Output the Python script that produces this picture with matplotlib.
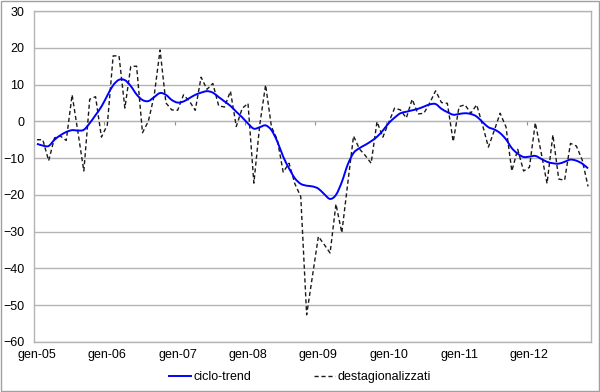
import numpy as np
import matplotlib
matplotlib.use('Agg')
import matplotlib.pyplot as plt
from matplotlib.patches import Rectangle, PathPatch
from matplotlib.path import Path
from matplotlib.lines import Line2D

plt.rcParams['font.family'] = ['Liberation Sans', 'DejaVu Sans']

# monthly data, gen-05 .. nov-12
tick_labels = ['gen-05', 'gen-06', 'gen-07', 'gen-08', 'gen-09', 'gen-10', 'gen-11', 'gen-12']

ciclo_trend = [-6.1, -6.6, -6.7, -5.0, -3.8, -2.9, -2.4, -2.5, -2.3, -0.5,
               1.7, 4.0, 7.0, 9.8, 11.3, 11.2, 9.6, 7.3, 5.8, 5.5,
               6.6, 7.7, 7.2, 5.8, 5.1, 5.4, 6.3, 7.2, 7.8, 8.2,
               7.8, 6.6, 5.4, 4.2, 2.6, 1.1, -0.6, -2.0, -1.6, -1.1,
               -2.4, -5.5, -9.6, -12.8, -15.5, -17.0, -17.5, -17.7, -18.3, -19.8,
               -21.1, -20.0, -16.5, -11.8, -8.6, -7.3, -6.4, -5.4, -4.2, -2.5,
               -0.5, 1.0, 2.2, 2.6, 3.0, 3.4, 4.0, 4.6, 4.7, 3.4,
               2.5, 1.8, 2.0, 2.2, 2.0, 1.3, -0.2, -1.6, -2.2, -3.2,
               -4.9, -7.3, -8.8, -9.7, -9.6, -9.4, -10.2, -11.0, -11.4, -11.5,
               -11.0, -10.4, -10.7, -11.5, -12.8]

destagionalizzati = [-5.0, -5.0, -10.7, -4.5, -4.0, -5.2, 7.2, -3.0, -13.5, 6.0,
                     6.7, -4.3, -1.0, 17.8, 17.8, 3.6, 14.9, 15.0, -3.1, 0.0,
                     7.0, 19.4, 5.0, 3.1, 3.0, 7.2, 5.5, 3.0, 12.0, 8.7,
                     10.3, 4.2, 3.9, 8.2, -1.4, 3.5, 4.9, -16.8, -1.0, 9.9,
                     -1.5, -5.0, -13.8, -11.4, -17.0, -20.5, -52.6, -42.0, -31.3, -33.5,
                     -35.8, -22.5, -30.3, -17.0, -4.0, -7.5, -9.3, -11.4, -0.1, -4.3,
                     -0.3, 3.6, 3.1, 0.9, 6.0, 2.0, 2.2, 5.0, 8.3, 5.1,
                     4.9, -5.5, 4.0, 4.5, 2.2, 4.5, -1.0, -7.0, -2.5, 2.2,
                     -1.5, -13.5, -7.6, -13.5, -12.5, -0.4, -8.5, -16.9, -3.7, -15.7,
                     -16.0, -6.0, -6.7, -10.5, -17.7]

months = np.arange(len(ciclo_trend))
grid_col = '#b4b4b4'
blue = '#0000ff'
dash_col = '#1a1a1a'


def smooth_path(x, y):
    # Excel-style smoothed line: Catmull-Rom segments as cubic Beziers
    x = np.asarray(x, float)
    y = np.asarray(y, float)
    verts = [(x[0], y[0])]
    codes = [Path.MOVETO]
    n = len(x)
    for i in range(n - 1):
        x0, y0 = (x[i - 1], y[i - 1]) if i > 0 else (x[i], y[i])
        x3, y3 = (x[i + 2], y[i + 2]) if i + 2 < n else (x[i + 1], y[i + 1])
        c1 = (x[i] + (x[i + 1] - x0) / 6, y[i] + (y[i + 1] - y0) / 6)
        c2 = (x[i + 1] - (x3 - x[i]) / 6, y[i + 1] - (y3 - y[i]) / 6)
        verts += [c1, c2, (x[i + 1], y[i + 1])]
        codes += [Path.CURVE4] * 3
    return Path(verts, codes)


fig = plt.figure(figsize=(6, 3.92), dpi=100)
ax = fig.add_axes([34 / 600, 1 - 342 / 392, (591 - 34) / 600, (342 - 11) / 392])

ax.add_patch(PathPatch(smooth_path(months, ciclo_trend), fill=False,
                       edgecolor=blue, lw=1.4, zorder=3))
ax.plot(months, destagionalizzati, color=dash_col, lw=1.0, ls=(0, (3, 2)), zorder=2)

ax.set_xlim(-0.5, len(months) - 0.5)
ax.set_ylim(-60, 30)
ax.set_yticks(np.arange(-60, 31, 10))
ax.set_xticks(np.arange(0, len(months), 12))
ax.set_xticklabels(tick_labels)
ax.tick_params(axis='both', length=0, labelsize=9)
ax.tick_params(axis='y', pad=7)
ax.tick_params(axis='x', pad=5)
ax.grid(axis='y', color=grid_col, lw=1)
ax.set_axisbelow(True)
for s in ax.spines.values():
    s.set_color(grid_col)
    s.set_linewidth(1)

# horizontal axis crossing at zero, with tick marks between years
sec = ax.secondary_xaxis(2 / 3)
sec.set_xticks(np.arange(11.5, len(months), 12))
sec.set_xticklabels([])
sec.xaxis.set_ticks_position('bottom')
sec.tick_params(axis='x', length=3, color='#909090', direction='out')
for s in sec.spines.values():
    s.set_color(grid_col)

handles = [Line2D([], [], color=blue, lw=1.4),
           Line2D([], [], color=dash_col, lw=1.0, ls=(0, (3, 2)))]
fig.legend(handles, ['ciclo-trend', 'destagionalizzati'], loc='center',
           bbox_to_anchor=(0.5, 1 - 377 / 392), ncol=2, frameon=False,
           fontsize=9, handlelength=1.7, handletextpad=0.2, columnspacing=5.0)

fig.patches.append(Rectangle((0.001, 0.002), 0.997, 0.995, transform=fig.transFigure,
                             fill=False, edgecolor='#a0a0a0', lw=1))

fig.savefig('out.png', dpi=100)
